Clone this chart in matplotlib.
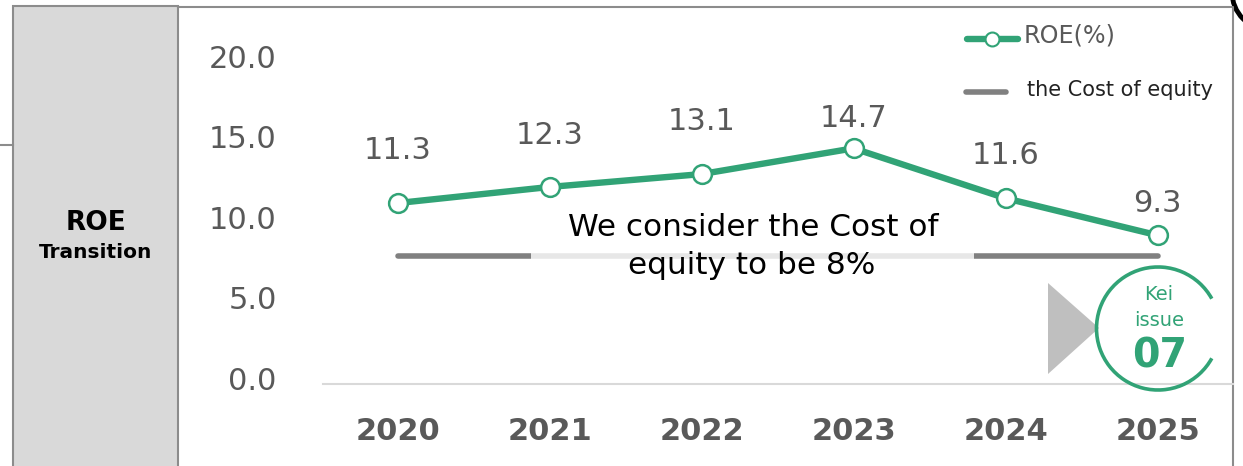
import matplotlib
matplotlib.use('Agg')
import matplotlib.pyplot as plt
from matplotlib.patches import Arc, Polygon, Rectangle
from matplotlib.transforms import ScaledTranslation

years = ['2020', '2021', '2022', '2023', '2024', '2025']
roe = [11.3, 12.3, 13.1, 14.7, 11.6, 9.3]
cost_of_equity = [8, 8, 8, 8, 8, 8]
yticks = [0, 5, 10, 15, 20]

W, H = 1243, 466
GREEN = '#31a376'
GRAY = '#808080'
TEXT = '#595959'
BORDER = '#8c8c8c'

plt.rcParams['font.family'] = ['DejaVu Sans']
fig = plt.figure(figsize=(W / 100, H / 100), dpi=100)

# plot area, placed in pixels
left, right, top, bottom = 321.5, 1233.5, 63, 385
ax = fig.add_axes([left / W, 1 - bottom / H, (right - left) / W, (bottom - top) / H])
ax.set_xlim(-0.5, 5.5)
ax.set_ylim(0, 20)
ax.patch.set_alpha(0)
for s in ['top', 'right', 'left']:
    ax.spines[s].set_visible(False)
ax.spines['bottom'].set_visible(False)
ax.axhline(0.06, xmin=0.002, xmax=0.999, color='#d9d9d9', lw=1.5, clip_on=False, zorder=1)

x = list(range(len(years)))
ax.plot(x, cost_of_equity, color=GRAY, lw=4, solid_capstyle='round', zorder=2)
ax.plot(x, roe, color=GREEN, lw=4.6, marker='o', ms=13.5, mfc='white', mec=GREEN, mew=1.8,
        solid_capstyle='round', zorder=3)

offsets = [38, 37, 38, 15, 28, 17]
for i, v in enumerate(roe):
    ax.annotate(f'{v:.1f}', (i, v), xytext=(0, offsets[i] * 0.72), textcoords='offset points',
                ha='center', va='bottom', fontsize=22, color=TEXT, zorder=5)

ax.set_xticks(x, years, fontsize=22, fontweight='bold', color=TEXT)
ax.tick_params(axis='x', length=0, pad=23)
ax.set_yticks(yticks, [f'{t:.1f}' for t in yticks], fontsize=22, color=TEXT)
ax.tick_params(axis='y', length=0)
for lab in ax.get_yticklabels():
    lab.set_transform(lab.get_transform() + ScaledTranslation(-0.40, 0.07, fig.dpi_scale_trans))

# frame, side panel, callout and legend in pixel coordinates
bg = fig.add_axes([0, 0, 1, 1], zorder=-1)
bg.set_xlim(0, W)
bg.set_ylim(H, 0)
bg.axis('off')
bg.add_patch(Rectangle((13.5, 6), 165, 470, fc='#d9d9d9', ec=BORDER, lw=1.5))
bg.plot([178, 1233, 1233], [7, 7, 470], color=BORDER, lw=1.5)
bg.plot([0, 13], [145, 145], color=BORDER, lw=1.5)
bg.text(96, 223, 'ROE', ha='center', va='center', fontsize=19, fontweight='bold', color='black')
bg.text(96, 253, 'Transition', ha='center', va='center', fontsize=14.5, fontweight='bold', color='black')
bg.add_patch(Arc((1270, -8), 76, 76, theta1=90, theta2=270, color='black', lw=3.5))

over = fig.add_axes([0, 0, 1, 1], zorder=5)
over.set_xlim(0, W)
over.set_ylim(H, 0)
over.axis('off')
over.patch.set_alpha(0)

# translucent box behind the note knocks back the cost of equity line
over.add_patch(Rectangle((531, 208), 443, 76, fc='white', ec='none', alpha=0.82))
over.text(753, 227, 'We consider the Cost of', ha='center', va='center', fontsize=22.4, color='black')
over.text(752, 266, 'equity to be 8%', ha='center', va='center', fontsize=22.4, color='black')

over.plot([967, 1018], [39, 39], color=GREEN, lw=4.6, solid_capstyle='round')
over.plot([992], [39], marker='o', ms=10, mfc='white', mec=GREEN, mew=1.5)
over.text(1024, 35, 'ROE(%)', ha='left', va='center', fontsize=17.2, color=TEXT)
over.plot([966, 1006], [92, 92], color=GRAY, lw=4, solid_capstyle='round')
over.text(1027, 90, 'the Cost of equity', ha='left', va='center', fontsize=15, color='#222222')

over.add_patch(Polygon([(1048, 283), (1048, 374), (1099, 328)], fc='#bfbfbf', ec='none'))
over.add_patch(Arc((1158, 328.5), 123, 123, theta1=29, theta2=331, color=GREEN, lw=2.6))
over.text(1159, 294, 'Kei', ha='center', va='center', fontsize=14, color=GREEN)
over.text(1159, 320, 'issue', ha='center', va='center', fontsize=14, color=GREEN)
over.text(1160, 356, '07', ha='center', va='center', fontsize=28.5, fontweight='bold', color=GREEN)

fig.savefig('out.png', dpi=100)
